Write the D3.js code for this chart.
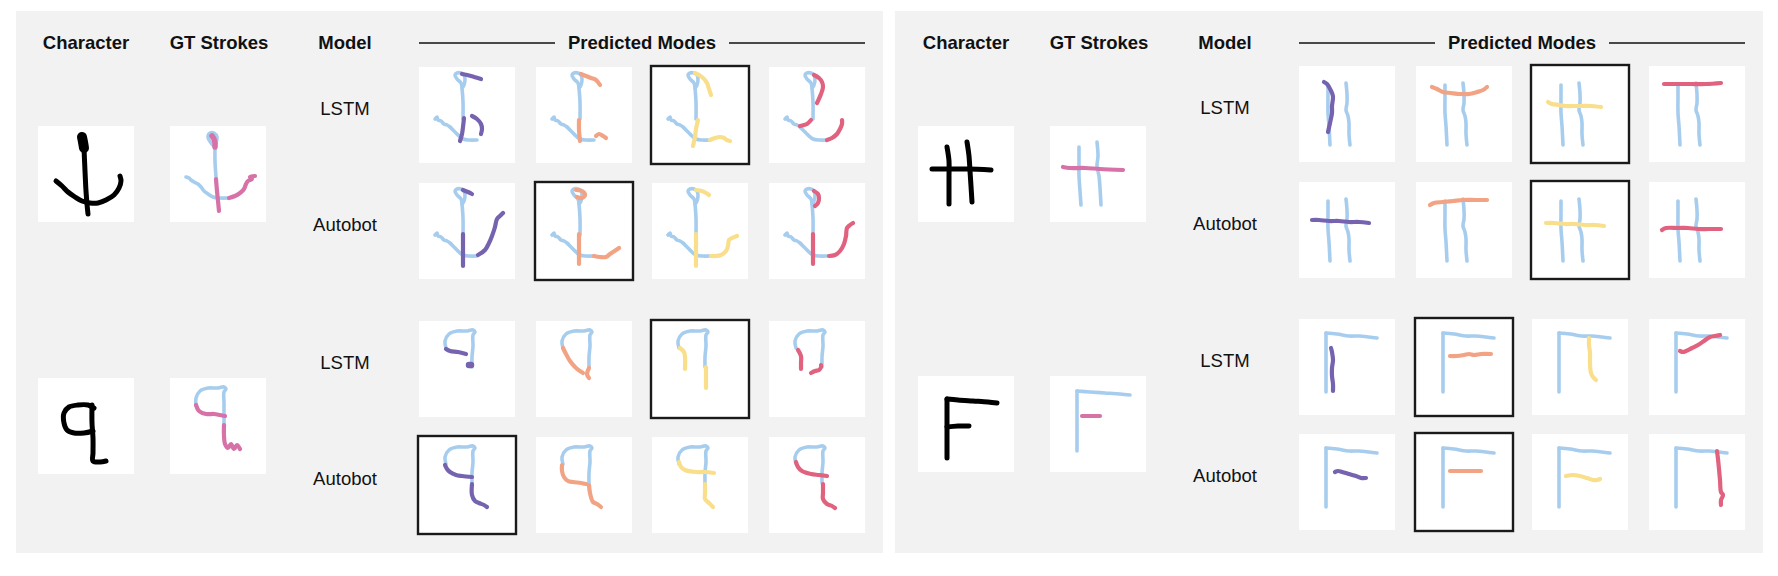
<!DOCTYPE html>
<html>
<head>
<meta charset="utf-8">
<script src="https://cdn.jsdelivr.net/npm/d3@7"></script>
<style>
  html, body { margin: 0; padding: 0; background: #ffffff; }
  svg { display: block; }
</style>
</head>
<body>
<svg id="fig" width="1778" height="576"></svg>
<script>
// ---------------- DATA ----------------
const headers = ["Character", "GT Strokes", "Model", "Predicted Modes"];
const models = ["LSTM", "Autobot"];
const modeColors = ["#7563b0", "#f2a384", "#f9df8c", "#e1627f"];
const contextColor = "#a7cdee";
const gtColor = "#d672a8";

// Example 1: anchor-like character (stroke coordinates in a 0-96 box)
const anchorChar = [
  [[44,11],[45,16],[46,22]],
  [[46,22],[47,45],[48,65],[49,78],[50,88]],
  [[18,55],[24,60],[30,66],[37,71],[44,75],[52,77],[60,77],[68,74],[76,69],[81,62],[83,55],[82,50]]
];
const anchorGtContext = [
  [[45,21],[41,17],[38,11],[40,7],[44,7],[47,11],[46,17],[45,21]],
  [[45,21],[45,35],[46,51]],
  [[16,51],[19,52],[21,54],[24,56],[28,58],[31,61],[34,65],[38,68],[43,71],[50,72],[58,72]]
];
const anchorGtTarget = [
  [[42,10],[44,13],[45,17],[45,21]],
  [[46,53],[47,65],[48,75],[49,85]],
  [[59,72],[65,70],[70,67],[74,63],[76,58],[78,55],[82,53],[80,51],[85,50]]
];
const anchorContext = [
  [[43,21],[42,16],[38,12],[36,8],[38,6],[42,6],[45,8],[46,12],[45,18],[43,21]],
  [[43,21],[44,35],[44,52]],
  [[16,52],[18,50],[19,53],[22,54],[25,57],[28,58],[31,60],[34,63],[37,66],[40,69],[44,72],[50,73],[58,73]]
];
const anchorLSTM = [
  [[[43,7],[52,9],[62,12]], [[45,51],[44,60],[43,67],[41,74]], [[53,49],[58,52],[62,57],[63,62],[62,67]]],
  [[[45,7],[50,9],[55,11],[60,13],[64,18]], [[43,53],[43,63],[44,74]], [[60,69],[63,67],[67,69],[70,71]]],
  [[[43,6],[50,10],[55,16],[57,22],[59,28]], [[46,53],[44,62],[43,70],[41,79]], [[58,73],[63,71],[68,70],[72,71],[75,73],[78,74]]],
  [[[45,8],[50,11],[53,15],[54,20],[52,27],[48,36]], [[31,59],[35,58],[38,57],[42,53]], [[58,73],[63,71],[68,67],[71,62],[73,57],[73,53]]]
];
const anchorAutobot = [
  [[[44,7],[49,9],[53,11]], [[44,51],[44,67],[44,83]], [[59,72],[66,67],[70,60],[73,53],[76,44],[78,36],[82,32],[84,30]]],
  [[[40,7],[46,8],[49,12],[46,15],[41,14]], [[43,51],[43,66],[43,81]], [[58,73],[64,74],[70,74],[74,71],[77,69],[83,65]]],
  [[[44,7],[50,8],[54,10],[57,12]], [[44,51],[44,67],[44,83]], [[59,73],[64,73],[69,72],[74,68],[76,63],[77,57],[80,55],[85,53]]],
  [[[45,8],[49,11],[50,15],[49,20],[46,23]], [[44,51],[44,66],[44,81]], [[60,73],[66,72],[71,68],[75,61],[77,53],[78,45],[81,42],[84,40]]]
];
const anchorSelected = [2, 1];

// Example 2: q-like character
const qChar = [
  [[56,30],[50,27],[40,27],[31,29],[26,35],[26,45],[29,52],[36,55],[46,55],[55,53]],
  [[54,27],[54,45],[55,60],[55,75],[55,83],[62,84],[68,83]]
];
const qGtContext = [
  [[26,27],[26,20],[30,13],[38,10],[47,10],[54,9],[56,11],[54,14],[54,25],[54,36],[54,47]]
];
const qGtTarget = [
  [[26,27],[29,33],[36,36],[44,36],[50,37],[55,38]],
  [[54,47],[54,58],[55,66],[58,70],[61,66],[64,71],[67,67],[70,71]]
];
const qContext = [
  [[27,27],[26,20],[30,13],[38,10],[47,10],[54,9],[56,11],[54,14],[54,25],[53,36],[53,46]]
];
const qLSTM = [
  [[[27,28],[31,30],[39,31],[47,33]], [[50,44],[52,44]]],
  [[[27,27],[30,33],[34,40],[40,47],[47,52]], [[53,47],[51,53],[53,57]]],
  [[[28,27],[32,31],[33,36],[33,48]], [[54,46],[54,57],[54,67]]],
  [[[29,29],[32,35],[32,42],[32,48]], [[42,52],[46,50],[50,49],[52,46],[52,44]]]
];
const qAutobot = [
  [[[26,28],[28,32],[31,35],[37,38],[43,39],[53,40]], [[53,47],[53,58],[56,64],[60,66],[65,68],[68,70]]],
  [[[26,28],[26,34],[28,40],[32,44],[37,45],[45,46],[50,47]], [[53,48],[54,56],[57,65],[61,67],[65,70]]],
  [[[27,25],[29,30],[33,33],[44,35],[53,35],[62,36]], [[53,47],[53,56],[53,62],[57,66],[61,70]]],
  [[[27,25],[29,30],[33,34],[42,37],[50,38],[58,39]], [[54,47],[54,56],[54,62],[58,67],[63,69],[66,71]]]
];
const qSelected = [2, 0];

// Example 3: hash-like character
const hashChar = [
  [[29,21],[31,35],[31,50],[31,65],[31,78]],
  [[49,16],[51,30],[52,45],[53,60],[54,76]],
  [[14,43],[30,43],[50,43],[73,44]]
];
const hashGtContext = [
  [[29,21],[29,35],[29,50],[30,65],[31,79]],
  [[47,16],[48,30],[47,40],[49,50],[50,62],[51,79]]
];
const hashGtTarget = [
  [[13,41],[20,42],[35,42],[50,43],[73,44]]
];
const hashContext = [
  [[29,19],[29,30],[29,47],[30,60],[31,79]],
  [[47,17],[48,28],[48,37],[47,44],[49,50],[50,57],[50,68],[51,79]]
];
const hashLSTM = [
  [[[25,16],[28,18],[30,21],[33,27],[34,31],[33,40],[33,47],[31,57],[29,66]]],
  [[[16,21],[21,23],[27,26],[35,27],[44,28],[53,28],[61,26],[67,24],[71,21]]],
  [[[16,36],[20,38],[27,39],[33,40],[41,40],[49,40],[58,40],[69,41]]],
  [[[15,18],[28,18],[42,18],[57,18],[72,17]]]
];
const hashAutobot = [
  [[[13,38],[20,38],[30,39],[40,39],[50,40],[60,40],[70,41]]],
  [[[14,23],[18,21],[27,20],[37,19],[47,18],[60,18],[71,18]]],
  [[[14,41],[22,41],[33,42],[43,42],[53,43],[63,43],[72,44]]],
  [[[13,48],[17,46],[29,46],[39,46],[49,47],[60,47],[72,47]]]
];
const hashSelected = [2, 2];

// Example 4: F-like character
const fChar = [
  [[29,23],[29,40],[29,55],[29,70],[29,82]],
  [[29,23],[40,24],[55,25],[70,26],[79,27]],
  [[29,51],[40,50],[51,50]]
];
const fGtContext = [
  [[27,15],[27,30],[27,45],[27,60],[27,75]],
  [[27,15],[40,16],[55,17],[70,18],[80,19]]
];
const fGtTarget = [
  [[32,40],[40,40],[50,40]]
];
const fContext = [
  [[27,14],[27,30],[27,45],[27,60],[27,73]],
  [[27,14],[38,15],[50,17],[60,17],[70,18],[78,19]]
];
const fLSTM = [
  [[[32,29],[33,33],[34,41],[33,49],[33,57],[34,65],[34,72]]],
  [[[34,37],[40,37],[48,36],[53,35],[58,36],[65,35],[75,35]]],
  [[[57,19],[57,26],[58,34],[58,44],[59,54],[61,58],[64,61]]],
  [[[31,32],[34,33],[37,32],[43,29],[49,26],[55,22],[61,18],[66,17],[71,16]]]
];
const fAutobot = [
  [[[36,38],[39,37],[43,38],[50,40],[57,42],[62,44],[67,44]]],
  [[[34,37],[42,37],[50,37],[58,37],[65,37]]],
  [[[34,42],[41,41],[48,42],[55,44],[61,46],[65,46],[68,45]]],
  [[[68,17],[69,25],[70,35],[71,46],[72,58],[74,61],[72,66],[72,71]]]
];
const fSelected = [1, 1];

// ---------------- LAYOUT (table built from the arrays) ----------------
const examples = [
  {panel: 0, slot: 0, ch: anchorChar, gtc: anchorGtContext, gtt: anchorGtTarget, ctx: anchorContext, modes: [anchorLSTM, anchorAutobot], sel: anchorSelected},
  {panel: 0, slot: 1, ch: qChar, gtc: qGtContext, gtt: qGtTarget, ctx: qContext, modes: [qLSTM, qAutobot], sel: qSelected},
  {panel: 1, slot: 0, ch: hashChar, gtc: hashGtContext, gtt: hashGtTarget, ctx: hashContext, modes: [hashLSTM, hashAutobot], sel: hashSelected},
  {panel: 1, slot: 1, ch: fChar, gtc: fGtContext, gtt: fGtTarget, ctx: fContext, modes: [fLSTM, fAutobot], sel: fSelected}
];

const panelX = [0, 880];
const panelRects = [{x: 16, w: 867}, {x: 895, w: 868}];
const slotY = [
  [{rows: [67, 183], ch: 126}, {rows: [321, 437], ch: 378}],
  [{rows: [66, 182], ch: 126}, {rows: [319, 434], ch: 376}]
];
const BOX = 96;
const charX = 38, gtX = 170, labelX = 345;
const modeX = [419, 536, 652, 769];
const FONT = "'Liberation Sans', Arial, Helvetica, sans-serif";

const svg = d3.select("#fig");

// panels
svg.selectAll("rect.panel").data(panelRects).join("rect")
  .attr("class", "panel")
  .attr("x", d => d.x).attr("y", 11)
  .attr("width", d => d.w).attr("height", 542)
  .attr("fill", "#f2f2f2");

// headers
panelX.forEach(ox => {
  const g = svg.append("g").attr("transform", `translate(${ox},0)`);
  const hx = [86, 219, 345, (modeX[0] + modeX[3] + BOX) / 2];
  g.selectAll("text.h").data(headers).join("text")
    .attr("class", "h")
    .attr("x", (d, i) => hx[i]).attr("y", 49)
    .attr("text-anchor", "middle")
    .attr("font-family", FONT).attr("font-weight", "bold").attr("font-size", 18.5)
    .attr("fill", "#111")
    .text(d => d);
  g.append("line").attr("x1", modeX[0]).attr("x2", 555).attr("y1", 43).attr("y2", 43)
    .attr("stroke", "#111").attr("stroke-width", 1.6);
  g.append("line").attr("x1", 729).attr("x2", modeX[3] + BOX).attr("y1", 43).attr("y2", 43)
    .attr("stroke", "#111").attr("stroke-width", 1.6);
});

function drawBox(g, x, y, strokeSets, selected) {
  const sx = d3.scaleLinear().domain([0, BOX]).range([x, x + BOX]);
  const sy = d3.scaleLinear().domain([0, BOX]).range([y, y + BOX]);
  const line = d3.line().x(d => sx(d[0])).y(d => sy(d[1])).curve(d3.curveCatmullRom.alpha(0.5));
  g.append("rect").attr("x", x).attr("y", y).attr("width", BOX).attr("height", BOX).attr("fill", "#ffffff");
  strokeSets.forEach(set => {
    g.selectAll(null).data(set.strokes).join("path")
      .attr("d", line)
      .attr("fill", "none")
      .attr("stroke", set.color)
      .attr("stroke-width", (d, i) => (set.widths ? set.widths[i] : null) || set.width)
      .attr("stroke-linecap", "round")
      .attr("stroke-linejoin", "round");
  });
  if (selected) {
    g.append("rect").attr("x", x - 1).attr("y", y - 1).attr("width", BOX + 2).attr("height", BOX + 2)
      .attr("fill", "none").attr("stroke", "#1a1a1a").attr("stroke-width", 2.4);
  }
}

examples.forEach(ex => {
  const ox = panelX[ex.panel];
  const L = slotY[ex.panel][ex.slot];
  const g = svg.append("g");
  // character
  drawBox(g, ox + charX, L.ch, [{strokes: ex.ch, color: "#000", width: 5, widths: ex.ch === anchorChar ? [10] : null}], false);
  // gt
  drawBox(g, ox + gtX, L.ch, [
    {strokes: ex.gtc, color: contextColor, width: 3.6},
    {strokes: ex.gtt, color: gtColor, width: 4.2, widths: ex.gtt === anchorGtTarget ? [5.5] : null}
  ], false);
  // model rows
  models.forEach((m, r) => {
    const ry = L.rows[r];
    g.append("text")
      .attr("x", ox + labelX).attr("y", ry + BOX / 2)
      .attr("text-anchor", "middle")
      .attr("font-family", FONT).attr("font-size", 18.5).attr("fill", "#111")
      .text(m);
    ex.modes[r].forEach((strokes, c) => {
      const isDot = ex.modes[r] === qLSTM && c === 0;
      drawBox(g, ox + modeX[c], ry, [
        {strokes: ex.ctx, color: contextColor, width: 3.6},
        {strokes: strokes, color: modeColors[c], width: 4.2, widths: isDot ? [4.2, 6.5] : null}
      ], ex.sel[r] === c);
    });
  });
});
</script>
</body>
</html>
